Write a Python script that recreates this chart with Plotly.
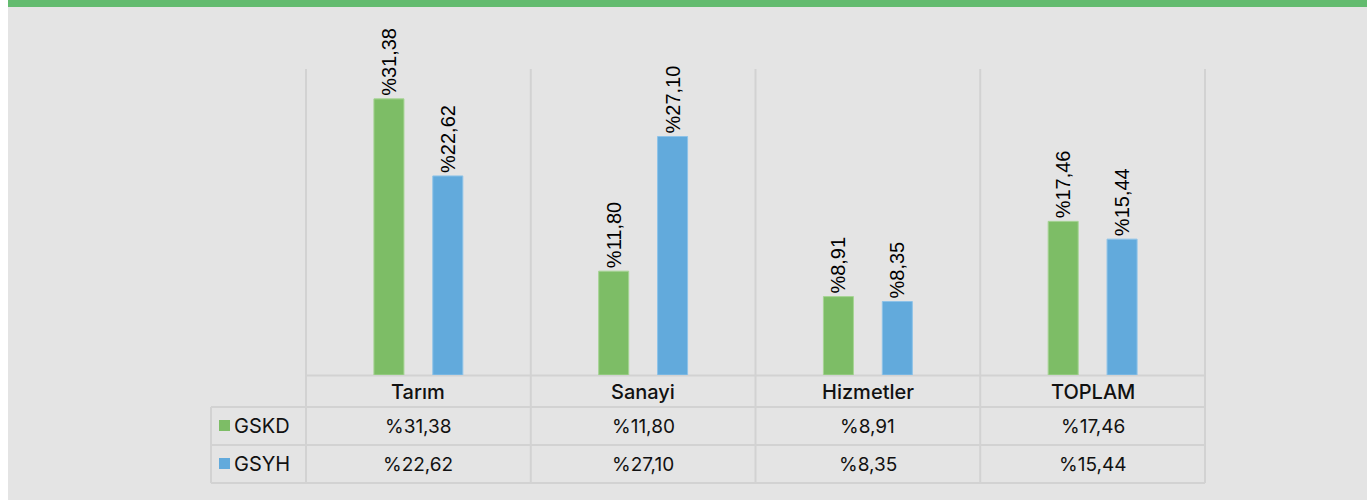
import plotly.graph_objects as go

# Sectors and series values (percent)
categories = ["Tarım", "Sanayi", "Hizmetler", "TOPLAM"]
gskd = [31.38, 11.80, 8.91, 17.46]
gsyh = [22.62, 27.10, 8.35, 15.44]
series_names = ["GSKD", "GSYH"]

W, H = 1367, 500
GREEN = "#7dbd66"
BLUE = "#62aadc"
BG = "#e4e4e4"
LINE = "#d2d2d2"
TEXT_FONT = "Inter"
LABEL_FONT = "Liberation Sans"


def fmt(v):
    return "%" + f"{v:.2f}".replace(".", ",")


def px(x):
    return x / W


def py(y):
    return 1 - y / H


x_left, x_right = 306, 1205
y_top, y_base = 67, 375

fig = go.Figure()
for name, vals, color, edge in [
    (series_names[0], gskd, GREEN, "#a6d494"),
    (series_names[1], gsyh, BLUE, "#8ec3e8"),
]:
    fig.add_trace(go.Bar(
        x=categories, y=vals, name=name,
        marker=dict(color=color, line=dict(color=edge, width=1)),
        text=[fmt(v) for v in vals],
        textposition="outside", textangle=-90,
        textfont=dict(family=LABEL_FONT, size=20, color="#000000"),
        cliponaxis=False, constraintext="none",
    ))

shapes = []
# white strip at far left and green band on top
shapes.append(dict(type="rect", xref="paper", yref="paper", x0=0, x1=px(8), y0=0, y1=1,
                   fillcolor="white", line=dict(width=0), layer="below"))
shapes.append(dict(type="rect", xref="paper", yref="paper", x0=px(8), x1=1, y0=py(7), y1=1,
                   fillcolor="#63bb6f", line=dict(width=0), layer="below"))

# column dividers through the plot and the table
col_x = [x_left + i * (x_right - x_left) / len(categories) for i in range(len(categories) + 1)]
for cx in col_x:
    shapes.append(dict(type="line", xref="paper", yref="paper", x0=px(cx), x1=px(cx),
                       y0=py(483), y1=py(69), line=dict(color=LINE, width=2), layer="below"))
# left column of the table
shapes.append(dict(type="line", xref="paper", yref="paper", x0=px(211), x1=px(211),
                   y0=py(483), y1=py(407), line=dict(color=LINE, width=2), layer="below"))
# horizontal rules
shapes.append(dict(type="line", xref="paper", yref="paper", x0=px(x_left), x1=px(x_right),
                   y0=py(375.5), y1=py(375.5), line=dict(color=LINE, width=2), layer="below"))
for ry in [407, 445, 483]:
    shapes.append(dict(type="line", xref="paper", yref="paper", x0=px(211), x1=px(x_right),
                       y0=py(ry), y1=py(ry), line=dict(color=LINE, width=2), layer="below"))

annotations = []
centers = [(col_x[i] + col_x[i + 1]) / 2 for i in range(len(categories))]
for cxp, cat in zip(centers, categories):
    annotations.append(dict(xref="paper", yref="paper", x=px(cxp), y=py(392), text=cat,
                            showarrow=False, xanchor="center", yanchor="middle",
                            font=dict(family=TEXT_FONT, size=20, color="#111111", weight=500)))
for row_y, vals in [(426, gskd), (464, gsyh)]:
    for cxp, v in zip(centers, vals):
        annotations.append(dict(xref="paper", yref="paper", x=px(cxp), y=py(row_y), text=fmt(v),
                                showarrow=False, xanchor="center", yanchor="middle",
                                font=dict(family=TEXT_FONT, size=19, color="#111111")))
for row_y, name, color in [(426, series_names[0], GREEN), (464, series_names[1], BLUE)]:
    shapes.append(dict(type="rect", xref="paper", yref="paper", x0=px(219), x1=px(230),
                       y0=py(row_y + 5), y1=py(row_y - 6), fillcolor=color, line=dict(width=0)))
    annotations.append(dict(xref="paper", yref="paper", x=px(232), y=py(row_y), text=name,
                            showarrow=False, xanchor="left", yanchor="middle",
                            font=dict(family=TEXT_FONT, size=20, color="#111111")))

fig.update_layout(
    width=W, height=H,
    margin=dict(l=0, r=0, t=0, b=0),
    paper_bgcolor=BG, plot_bgcolor="rgba(0,0,0,0)",
    showlegend=False,
    barmode="group", bargap=0.476, bargroupgap=0.49,
    xaxis=dict(domain=[px(x_left), px(x_right)], showticklabels=False, showgrid=False,
               zeroline=False, showline=False, ticks=""),
    yaxis=dict(domain=[py(y_base), py(y_top)], range=[0, 35], visible=False),
    shapes=shapes, annotations=annotations,
)

fig.write_html("out.html")
